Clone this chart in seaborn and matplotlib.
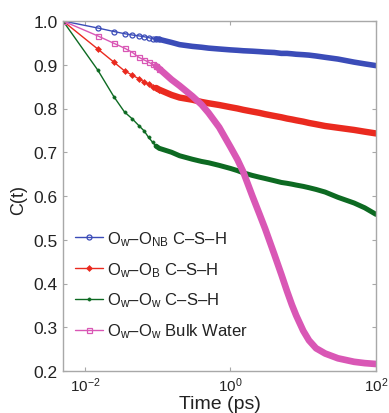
import matplotlib
matplotlib.use("Agg")
import matplotlib.pyplot as plt
import seaborn as sns
import pandas as pd
from matplotlib.ticker import FixedLocator, NullLocator

# ---- data ----
t_early = [0.005, 0.015, 0.025, 0.035, 0.045, 0.055, 0.065, 0.075, 0.085, 0.095, 0.105]
t_late = [0.155, 0.2, 0.3, 0.4, 0.5, 0.7, 1, 1.25, 1.5, 2, 2.5, 3, 4, 5, 6, 7, 8,
          10, 12, 15, 20, 30, 50, 70, 100]

nb_early = [1.0, 0.984, 0.976, 0.971, 0.968, 0.966, 0.964, 0.962, 0.960, 0.959, 0.958]
nb_late = [0.951, 0.946, 0.942, 0.940, 0.938, 0.936, 0.934, 0.933, 0.932, 0.931, 0.930,
           0.929, 0.928, 0.926, 0.926, 0.925, 0.924, 0.923, 0.922, 0.920, 0.917,
           0.913, 0.906, 0.902, 0.898]

b_early = [1.0, 0.936, 0.906, 0.886, 0.876, 0.868, 0.861, 0.855, 0.850, 0.847, 0.843]
b_late = [0.831, 0.825, 0.820, 0.815, 0.812, 0.808, 0.803, 0.800, 0.797, 0.793, 0.790,
          0.787, 0.783, 0.780, 0.777, 0.775, 0.773, 0.770, 0.767, 0.764, 0.760,
          0.756, 0.751, 0.747, 0.743]

w_early = [1.0, 0.888, 0.827, 0.792, 0.776, 0.761, 0.749, 0.734, 0.723, 0.714, 0.709]
w_late = [0.700, 0.692, 0.684, 0.679, 0.676, 0.670, 0.663, 0.658, 0.653, 0.647, 0.643,
          0.640, 0.635, 0.631, 0.629, 0.627, 0.625, 0.622, 0.619, 0.615, 0.609,
          0.597, 0.584, 0.573, 0.558]

bulk_early = [1.0, 0.966, 0.949, 0.938, 0.928, 0.917, 0.911, 0.906, 0.901, 0.897, 0.891]
bulk_late = [0.866, 0.852, 0.828, 0.809, 0.790, 0.757, 0.712, 0.683, 0.655, 0.600, 0.559,
             0.525, 0.467, 0.421, 0.382, 0.351, 0.327, 0.292, 0.270, 0.252, 0.240,
             0.229, 0.221, 0.218, 0.216]

labels = [r"$\mathrm{O_w}$–$\mathrm{O_{NB}}$ C–S–H",
          r"$\mathrm{O_w}$–$\mathrm{O_B}$ C–S–H",
          r"$\mathrm{O_w}$–$\mathrm{O_w}$ C–S–H",
          r"$\mathrm{O_w}$–$\mathrm{O_w}$ Bulk Water"]

x_ticks = [1e-2, 1e0, 1e2]
x_ticklabels = [r"$10^{-2}$", r"$10^{0}$", r"$10^{2}$"]
y_ticks = [0.2, 0.3, 0.4, 0.5, 0.6, 0.7, 0.8, 0.9, 1.0]

# ---- style ----
sns.set_theme(style="white")
plt.rcParams["font.family"] = ["Liberation Sans", "DejaVu Sans"]
plt.rcParams["mathtext.fontset"] = "custom"
plt.rcParams["mathtext.rm"] = "Liberation Sans"
plt.rcParams["mathtext.it"] = "Liberation Sans:italic"
plt.rcParams["mathtext.bf"] = "Liberation Sans:bold"

fig = plt.figure(figsize=(3.89, 4.14), dpi=100)
ax = fig.add_axes([63 / 389, 1 - 372 / 414, (376 - 63) / 389, (372 - 22) / 414])

series = [
    (nb_early, nb_late, "#3b4cb8", 4.0, dict(marker="o", mfc="none", ms=3.6, mew=0.9)),
    (b_early, b_late, "#ea2a1f", 4.6, dict(marker="D", ms=3.0, mew=0.5)),
    (w_early, w_late, "#0d6a22", 3.6, dict(marker="o", ms=2.4, mew=0.3)),
    (bulk_early, bulk_late, "#d957b5", 4.8, dict(marker="s", mfc="none", ms=3.6, mew=0.9)),
]

handles = []
for (early, late, col, thick, mk), lab in zip(series, labels):
    df = pd.DataFrame({"t": t_early + t_late, "C": early + late})
    # thin line with discrete markers where points are separated
    sns.lineplot(data=df, x="t", y="C", ax=ax, color=col, lw=1.0, sort=False,
                 estimator=None, markevery=list(range(len(early))),
                 mec=col, **mk)
    handles.append(ax.lines[-1])
    # dense region appears as a thick band
    dfl = pd.DataFrame({"t": t_early[-2:] + t_late, "C": early[-2:] + late})
    sns.lineplot(data=dfl, x="t", y="C", ax=ax, color=col, lw=thick, sort=False,
                 estimator=None, solid_capstyle="round", solid_joinstyle="round")

ax.set_xscale("log")
ax.set_xlim(0.005, 100)
ax.set_ylim(0.2, 1.0)
ax.xaxis.set_major_locator(FixedLocator(x_ticks))
ax.xaxis.set_minor_locator(NullLocator())
ax.set_xticklabels(x_ticklabels)
ax.set_yticks(y_ticks)
ax.set_yticklabels([f"{v:.1f}" for v in y_ticks])

for sp in ax.spines.values():
    sp.set_color("#a8a8a8")
    sp.set_linewidth(1.0)
ax.tick_params(axis="both", which="both", direction="in", length=3, width=0.8,
               color="#a8a8a8", top=True, right=True, bottom=True, left=True,
               labelsize=12.5, labelcolor="#222222", pad=4)
ax.tick_params(axis="x", pad=3, labelsize=11)

ax.set_xlabel("Time (ps)", fontsize=14, color="#222222", va="center")
ax.xaxis.set_label_coords(0.5, (372 - 405) / 350)
ax.set_ylabel("C(t)", fontsize=13, color="#222222", va="center")
ax.yaxis.set_label_coords((19 - 63) / 313, 0.49)

leg = ax.legend(handles=handles, labels=labels, loc="lower left",
                bbox_to_anchor=(0.0, 0.055), frameon=False, fontsize=12,
                handlelength=1.7, handletextpad=0.25, labelspacing=0.72,
                borderaxespad=0.3)
for txt in leg.get_texts():
    txt.set_color("#222222")

fig.savefig("out.png", dpi=100)
